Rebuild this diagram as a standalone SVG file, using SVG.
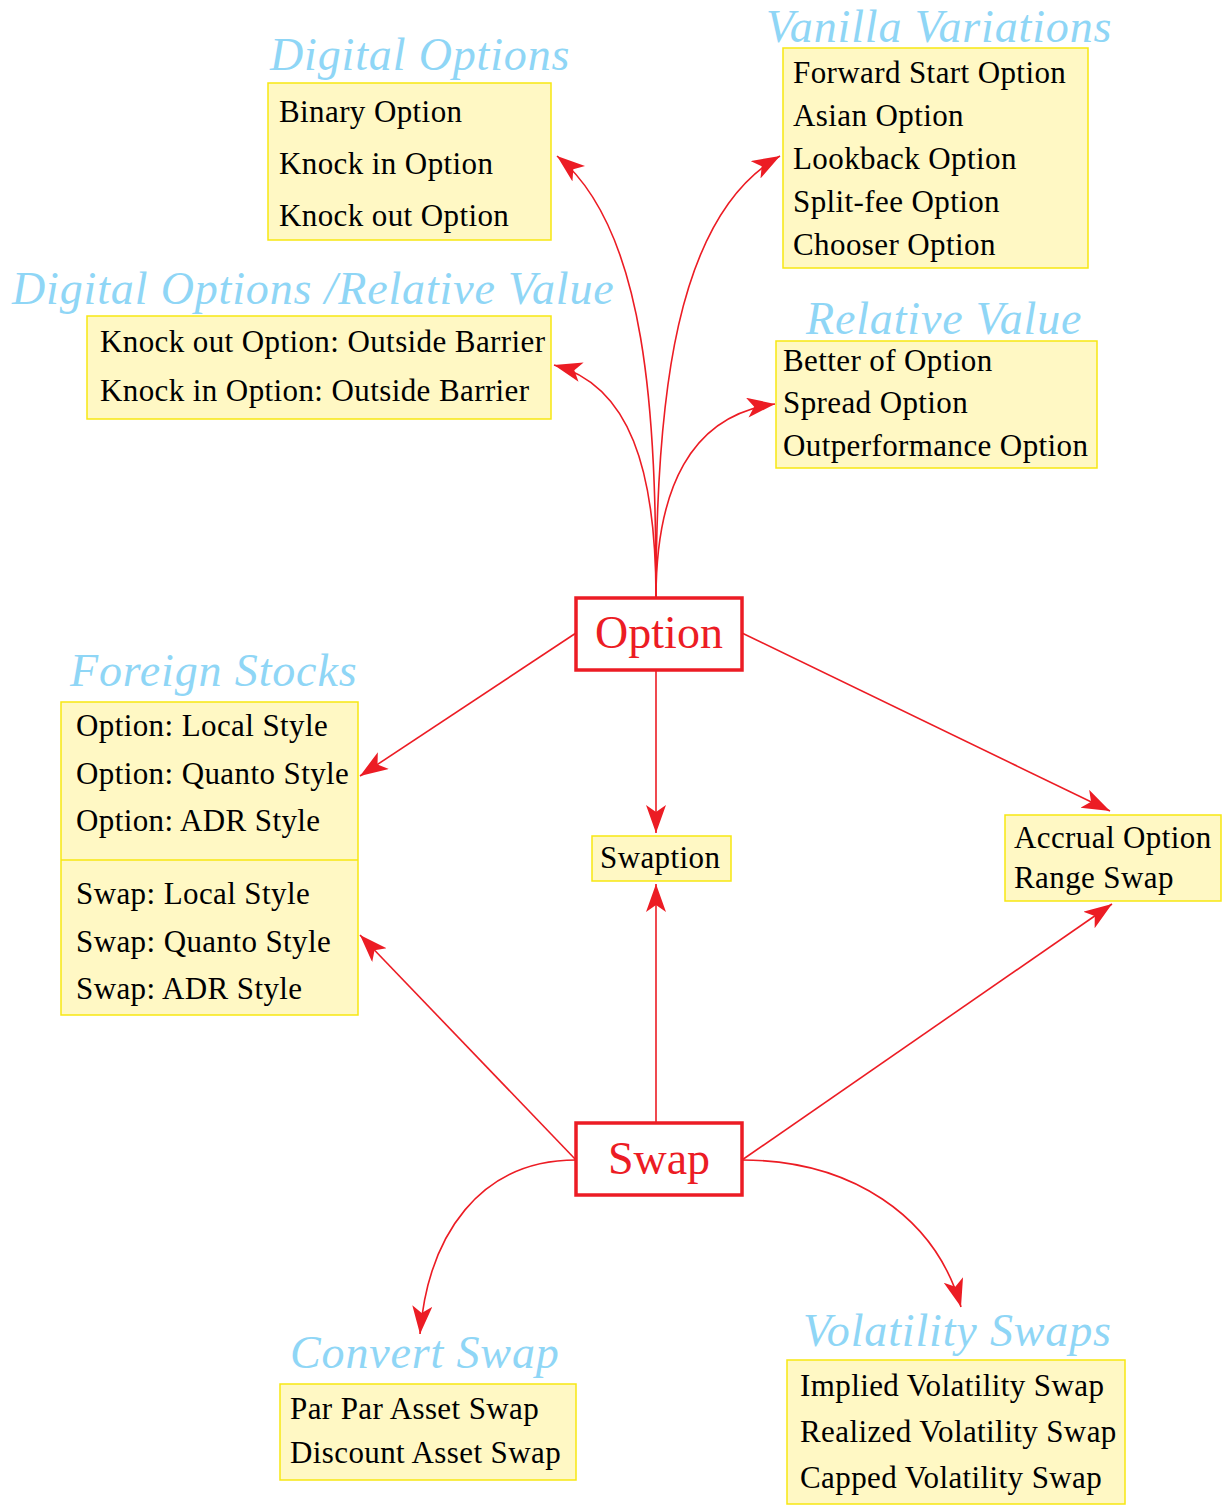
<svg xmlns="http://www.w3.org/2000/svg" width="1225" height="1511" viewBox="0 0 1225 1511">
  <style>
    .box { fill: #fff8c4; stroke: #f7e712; stroke-width: 1.5; }
    .item { font-family: "Liberation Serif", "Times New Roman", serif; font-size: 31px; fill: #000; letter-spacing: 0.4px; }
    .cap { font-family: "Liberation Serif", "Times New Roman", serif; font-style: italic; font-size: 46px; fill: #8fd6f6; letter-spacing: 0.85px; }
    .hub { fill: #fff; stroke: #ec1c24; stroke-width: 3.5; }
    .hubtext { font-family: "Liberation Serif", "Times New Roman", serif; font-size: 46px; fill: #ec1c24; text-anchor: middle; }
    .edge { fill: none; stroke: #ec1c24; stroke-width: 1.6; marker-end: url(#arrow); }
  </style>
  <defs>
    <marker id="arrow" markerUnits="userSpaceOnUse" markerWidth="30" markerHeight="22" refX="28" refY="10" orient="auto" viewBox="0 0 30 22">
      <path d="M0,0 L28,10 L0,20 L7,10 z" fill="#ec1c24"/>
    </marker>
  </defs>
  <rect width="1225" height="1511" fill="#fff"/>

  <!-- connectors -->
  <g id="connectors">
    <path class="edge" d="M656,598 C656,420 648,230 557,156"/>
    <path class="edge" d="M656,598 C656,400 675,215 780,156"/>
    <path class="edge" d="M656,598 C656,470 630,385 554,365"/>
    <path class="edge" d="M656,598 C656,490 690,415 775,404"/>
    <path class="edge" d="M576,633 L360,776"/>
    <path class="edge" d="M656,670 L656,833"/>
    <path class="edge" d="M742,633 L1110,811"/>
    <path class="edge" d="M656,1123 L656,884"/>
    <path class="edge" d="M576,1160 L360,935"/>
    <path class="edge" d="M742,1160 L1112,904"/>
    <path class="edge" d="M576,1160 C480,1160 428,1235 420,1334"/>
    <path class="edge" d="M742,1160 C850,1160 935,1215 961,1307"/>
  </g>

  <g id="option">
    <rect class="hub" x="576" y="598" width="166" height="72"/>
    <text class="hubtext" x="659" y="648">Option</text>
  </g>

  <g id="swap">
    <rect class="hub" x="576" y="1123" width="166" height="72"/>
    <text class="hubtext" x="659" y="1174">Swap</text>
  </g>

  <g id="digital-options">
    <text class="cap" x="270" y="70">Digital Options</text>
    <rect class="box" x="268" y="83" width="283" height="157"/>
    <text class="item" x="279" y="122">Binary Option</text>
    <text class="item" x="279" y="174">Knock in Option</text>
    <text class="item" x="279" y="226">Knock out Option</text>
  </g>

  <g id="vanilla-variations">
    <text class="cap" x="766" y="42">Vanilla Variations</text>
    <rect class="box" x="783" y="48" width="305" height="220"/>
    <text class="item" x="793" y="83">Forward Start Option</text>
    <text class="item" x="793" y="126">Asian Option</text>
    <text class="item" x="793" y="169">Lookback Option</text>
    <text class="item" x="793" y="212">Split-fee Option</text>
    <text class="item" x="793" y="255">Chooser Option</text>
  </g>

  <g id="digital-relative-value">
    <text class="cap" x="12" y="304">Digital Options /Relative Value</text>
    <rect class="box" x="87" y="316" width="464" height="103"/>
    <text class="item" x="100" y="352">Knock out Option: Outside Barrier</text>
    <text class="item" x="100" y="401">Knock in Option: Outside Barrier</text>
  </g>

  <g id="relative-value">
    <text class="cap" x="806" y="334">Relative Value</text>
    <rect class="box" x="776" y="341" width="321" height="127"/>
    <text class="item" x="783" y="371">Better of Option</text>
    <text class="item" x="783" y="413">Spread Option</text>
    <text class="item" x="783" y="456">Outperformance Option</text>
  </g>

  <g id="foreign-stocks">
    <text class="cap" x="70" y="686">Foreign Stocks</text>
    <rect class="box" x="61" y="702" width="297" height="313"/>
    <line x1="61" y1="860" x2="358" y2="860" stroke="#f7e712" stroke-width="1.5"/>
    <text class="item" x="76" y="736">Option: Local Style</text>
    <text class="item" x="76" y="784">Option: Quanto Style</text>
    <text class="item" x="76" y="831">Option: ADR Style</text>
    <text class="item" x="76" y="904">Swap: Local Style</text>
    <text class="item" x="76" y="952">Swap: Quanto Style</text>
    <text class="item" x="76" y="999">Swap: ADR Style</text>
  </g>

  <g id="swaption">
    <rect class="box" x="592" y="836" width="139" height="45"/>
    <text class="item" x="600" y="868">Swaption</text>
  </g>

  <g id="accrual">
    <rect class="box" x="1005" y="815" width="216" height="86"/>
    <text class="item" x="1014" y="848">Accrual Option</text>
    <text class="item" x="1014" y="888">Range Swap</text>
  </g>

  <g id="convert-swap">
    <text class="cap" x="290" y="1368">Convert Swap</text>
    <rect class="box" x="280" y="1384" width="296" height="96"/>
    <text class="item" x="290" y="1419">Par Par Asset Swap</text>
    <text class="item" x="290" y="1463">Discount Asset Swap</text>
  </g>

  <g id="volatility-swaps">
    <text class="cap" x="803" y="1346">Volatility Swaps</text>
    <rect class="box" x="787" y="1360" width="338" height="144"/>
    <text class="item" x="800" y="1396">Implied Volatility Swap</text>
    <text class="item" x="800" y="1442">Realized Volatility Swap</text>
    <text class="item" x="800" y="1488">Capped Volatility Swap</text>
  </g>
</svg>
